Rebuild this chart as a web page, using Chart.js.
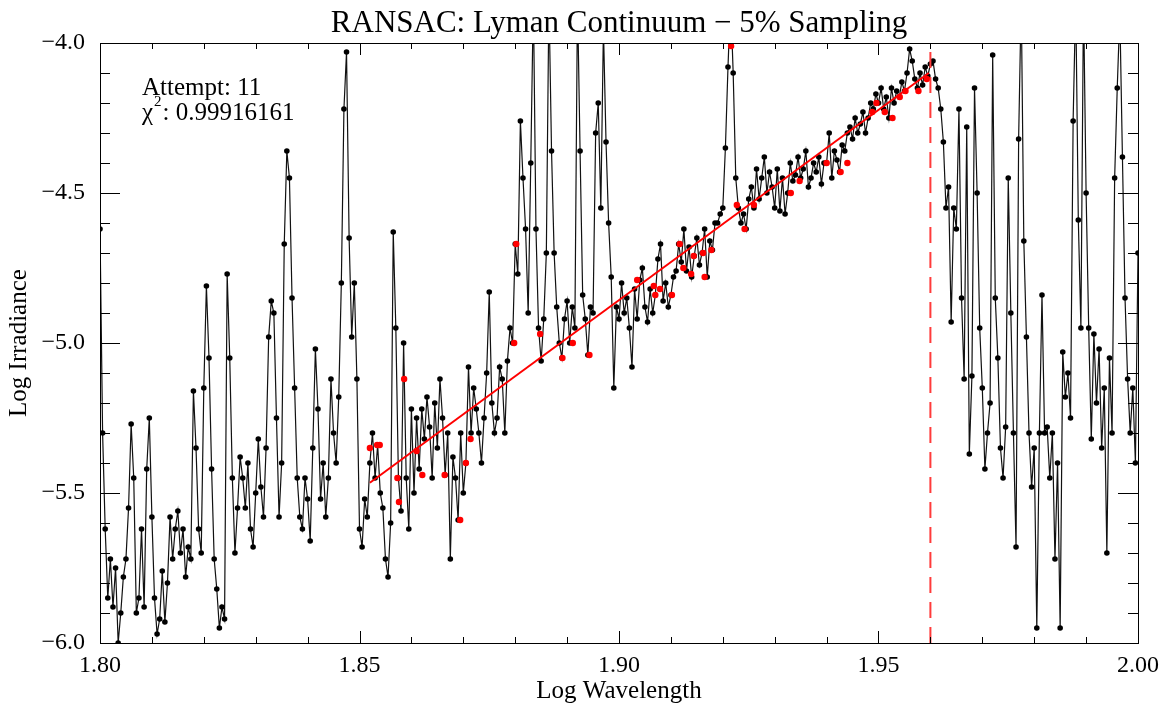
<!DOCTYPE html>
<html>
<head>
<meta charset="utf-8">
<title>RANSAC: Lyman Continuum</title>
<script src="https://cdn.jsdelivr.net/npm/chart.js@4.4.1/dist/chart.umd.min.js"></script>
<style>
  html, body { margin: 0; padding: 0; background: #fff; }
  #wrap { width: 1163px; height: 708px; }
</style>
</head>
<body>
<div id="wrap"><canvas id="c" width="1163" height="708"></canvas></div>
<script>
// ── Data ─────────────────────────────────────────────────
const titleText = 'RANSAC: Lyman Continuum \u2212 5% Sampling';
const attemptText = 'Attempt: 11';
const chiValue = '0.99916161';

// spectrum sampled on an even log-wavelength grid
const wlStart = 1.80, wlStep = 0.0005;
const irr = [
  -4.62, -5.30, -5.62, -5.85, -5.72, -5.88, -5.75, -6.00, -5.90, -5.78, // 1.800
  -5.72, -5.55, -5.27, -5.45, -5.90, -5.85, -5.62, -5.88, -5.42, -5.25,
  -5.58, -5.85, -5.97, -5.92, -5.76, -5.93, -5.80, -5.58, -5.72, -5.62, // 1.810
  -5.56, -5.70, -5.62, -5.78, -5.68, -5.72, -5.16, -5.35, -5.62, -5.70,
  -5.15, -4.81, -5.05, -5.42, -5.72, -5.82, -5.95, -5.88, -5.92, -4.77, // 1.820
  -5.05, -5.45, -5.70, -5.55, -5.38, -5.45, -5.55, -5.40, -5.62, -5.68,
  -5.50, -5.32, -5.48, -5.58, -5.35, -4.98, -4.86, -4.90, -5.25, -5.58, // 1.830
  -5.40, -4.67, -4.36, -4.45, -4.85, -5.15, -5.45, -5.58, -5.62, -5.45,
  -5.52, -5.66, -5.35, -5.02, -5.22, -5.52, -5.40, -5.58, -5.45, -5.12, // 1.840
  -5.30, -5.40, -5.18, -4.80, -4.22, -4.03, -4.65, -4.98, -4.80, -5.12,
  -5.62, -5.68, -5.52, -5.58, -5.40, -5.30, -5.45, -5.34, -5.50, -5.55, // 1.850
  -5.72, -5.78, -5.60, -4.63, -4.95, -5.45, -5.56, -5.00, -5.45, -5.62,
  -5.22, -5.50, -5.25, -5.42, -5.22, -5.32, -5.18, -5.28, -5.45, -5.20, // 1.860
  -5.35, -5.12, -5.25, -5.44, -5.30, -5.72, -5.38, -5.45, -5.59, -5.30,
  -5.50, -5.40, -5.08, -5.30, -5.15, -5.22, -5.30, -5.40, -5.25, -5.10, // 1.870
  -4.83, -5.20, -5.30, -5.25, -5.08, -5.12, -5.30, -5.06, -4.95, -5.00,
  -4.67, -4.77, -4.26, -4.45, -4.62, -4.90, -4.40, -3.85, -4.62, -4.95, // 1.880
  -5.06, -4.92, -4.70, -3.85, -4.36, -4.70, -4.88, -5.00, -5.05, -4.92,
  -4.86, -5.00, -4.88, -4.95, -3.85, -4.36, -4.84, -4.92, -5.04, -4.88, // 1.890
  -4.90, -4.30, -4.20, -4.55, -3.95, -4.33, -4.60, -4.78, -5.15, -4.88,
  -4.92, -4.80, -4.90, -4.85, -4.95, -5.08, -4.82, -4.92, -4.79, -4.75, // 1.900
  -4.88, -4.93, -4.82, -4.90, -4.84, -4.72, -4.67, -4.86, -4.80, -4.88,
  -4.84, -4.78, -4.76, -4.67, -4.73, -4.62, -4.76, -4.68, -4.78, -4.71, // 1.910
  -4.65, -4.74, -4.70, -4.62, -4.78, -4.66, -4.69, -4.60, -4.60, -4.57,
  -4.55, -4.35, -4.08, -3.85, -4.10, -4.45, -4.55, -4.60, -4.57, -4.62, // 1.920
  -4.52, -4.48, -4.55, -4.42, -4.52, -4.45, -4.38, -4.50, -4.43, -4.48,
  -4.55, -4.42, -4.56, -4.45, -4.57, -4.50, -4.40, -4.46, -4.44, -4.38, // 1.930
  -4.45, -4.42, -4.36, -4.48, -4.45, -4.40, -4.43, -4.38, -4.47, -4.40,
  -4.40, -4.30, -4.45, -4.36, -4.39, -4.43, -4.34, -4.36, -4.30, -4.28, // 1.940
  -4.32, -4.25, -4.30, -4.27, -4.23, -4.30, -4.25, -4.20, -4.22, -4.17,
  -4.20, -4.15, -4.22, -4.18, -4.25, -4.15, -4.20, -4.16, -4.18, -4.13, // 1.950
  -4.16, -4.10, -4.02, -4.06, -4.12, -4.15, -4.10, -4.14, -4.08, -4.11,
  -4.07, -4.06, -4.12, -4.15, -4.22, -4.33, -4.55, -4.48, -4.93, -4.55, // 1.960
  -4.62, -4.22, -4.85, -5.12, -4.28, -5.37, -5.11, -4.15, -4.50, -4.95,
  -5.15, -5.42, -5.30, -5.20, -4.04, -4.85, -5.05, -5.35, -5.45, -5.28, // 1.970
  -4.45, -4.90, -5.30, -5.68, -4.32, -3.85, -4.66, -4.98, -5.30, -5.48,
  -5.35, -5.95, -5.30, -4.84, -5.30, -5.28, -5.45, -5.30, -5.72, -5.40, // 1.980
  -5.95, -5.03, -5.18, -5.10, -5.25, -4.26, -3.85, -4.59, -4.95, -3.85,
  -4.50, -4.95, -5.32, -4.97, -5.20, -5.02, -5.35, -5.15, -5.70, -5.05, // 1.990
  -5.30, -4.45, -4.15, -3.90, -4.38, -4.85, -5.12, -5.30, -5.15, -5.40,
  -4.70                                                                 // 2.000
];

// points drawn in the 5% random sample (red)
const sampleWl = [
  1.8520, 1.8534, 1.8539, 1.8573, 1.8576, 1.8586, 1.8610, 1.8621, 1.8664, 1.8694,
  1.8705, 1.8714, 1.8798, 1.8802, 1.8848, 1.8891, 1.8911, 1.8943, 1.9035, 1.9067,
  1.9070, 1.9079, 1.9102, 1.9117, 1.9124, 1.9139, 1.9144, 1.9162, 1.9165, 1.9178,
  1.9216, 1.9227, 1.9242, 1.9260, 1.9331, 1.9348, 1.9400, 1.9427, 1.9440, 1.9488,
  1.9496, 1.9512, 1.9527, 1.9541, 1.9552, 1.9577, 1.9593
];
const sampleIrr = [
  -5.35, -5.34, -5.34, -5.45, -5.53, -5.12, -5.36, -5.44, -5.44, -5.59,
  -5.40, -5.32, -5.00, -4.67, -4.97, -5.05, -5.00, -5.04, -4.79, -4.81,
  -4.84, -4.82, -4.84, -4.67, -4.75, -4.77, -4.71, -4.70, -4.78, -4.69,
  -4.01, -4.54, -4.62, -4.54, -4.50, -4.46, -4.40, -4.43, -4.40, -4.23,
  -4.20, -4.23, -4.25, -4.18, -4.16, -4.16, -4.12
];

// best RANSAC line and the Lyman edge
const fitWl = [1.8520, 1.9597];
const fitIrr = [-5.466, -4.100];
const edgeWl = 1.96;

// axes
const xMin = 1.80, xMax = 2.00, xMajor = 0.05, xMinor = 0.01;
const yMin = -6.0, yMax = -4.0, yMajor = 0.5, yMinor = 0.1;

// ── IDL-style frame, inward ticks, title, annotation ─────
const idlFrame = {
  id: 'idlFrame',
  afterDraw(chart) {
    const { ctx, chartArea: a, scales: { x, y } } = chart;
    ctx.save();
    ctx.strokeStyle = '#000';
    ctx.lineWidth = 1;
    ctx.strokeRect(a.left + .5, a.top + .5, a.right - a.left, a.bottom - a.top);
    ctx.beginPath();
    const nx = Math.round((xMax - xMin) / xMinor), per = Math.round(xMajor / xMinor);
    for (let k = 0; k <= nx; k++) {
      const px = Math.round(x.getPixelForValue(xMin + k * xMinor)) + .5;
      const len = k % per === 0 ? 12 : 6;
      ctx.moveTo(px, a.bottom); ctx.lineTo(px, a.bottom - len);
      ctx.moveTo(px, a.top); ctx.lineTo(px, a.top + len);
    }
    const ny = Math.round((yMax - yMin) / yMinor), pery = Math.round(yMajor / yMinor);
    for (let k = 0; k <= ny; k++) {
      const py = Math.round(y.getPixelForValue(yMin + k * yMinor)) + .5;
      const len = k % pery === 0 ? 20 : 10;
      ctx.moveTo(a.left, py); ctx.lineTo(a.left + len, py);
      ctx.moveTo(a.right, py); ctx.lineTo(a.right - len, py);
    }
    ctx.stroke();

    ctx.fillStyle = '#000';
    ctx.textBaseline = 'alphabetic';
    ctx.textAlign = 'center';
    ctx.font = '31px "Liberation Serif", "Times New Roman", serif';
    ctx.fillText(titleText, (a.left + a.right) / 2, 32);

    // fit info in the upper-left corner
    ctx.textAlign = 'left';
    const tx = a.left + 42;
    ctx.font = '25px "Liberation Serif", "Times New Roman", serif';
    ctx.fillText(attemptText, tx, 95);
    ctx.fillText('\u03c7', tx, 120);
    let cx = tx + ctx.measureText('\u03c7').width + 1;
    ctx.font = '15px "Liberation Serif", "Times New Roman", serif';
    ctx.fillText('2', cx, 106);
    cx += ctx.measureText('2').width + 1;
    ctx.font = '25px "Liberation Serif", "Times New Roman", serif';
    ctx.fillText(': ' + chiValue, cx, 120);
    ctx.restore();
  }
};

Chart.defaults.font.family = '"Liberation Serif", "Times New Roman", serif';
Chart.defaults.color = '#000';

new Chart(document.getElementById('c'), {
  type: 'scatter',
  data: {
    datasets: [
      { label: 'sample', data: sampleWl.map((w, i) => ({ x: w, y: sampleIrr[i] })),
        pointRadius: 3.2, pointBackgroundColor: '#ff0000', pointBorderWidth: 0, showLine: false, order: 0 },
      { label: 'fit', data: fitWl.map((w, i) => ({ x: w, y: fitIrr[i] })),
        showLine: true, borderColor: '#ff0000', borderWidth: 2, pointRadius: 0, order: 1 },
      { label: 'edge', data: [{ x: edgeWl, y: yMin }, { x: edgeWl, y: yMax }],
        showLine: true, borderColor: '#ff3b3b', borderWidth: 2, borderDash: [16, 9], pointRadius: 0, order: 2 },
      { label: 'spectrum', data: irr.map((v, i) => ({ x: wlStart + i * wlStep, y: v })),
        showLine: true, borderColor: '#111', borderWidth: 1.2, tension: 0,
        pointRadius: 2.8, pointBackgroundColor: '#000', pointBorderWidth: 0, order: 3 }
    ]
  },
  options: {
    responsive: false, animation: false,
    layout: { padding: { left: 0, right: 25, top: 43, bottom: 0 } },
    plugins: { legend: { display: false }, tooltip: { enabled: false } },
    scales: {
      x: {
        type: 'linear', min: xMin, max: xMax,
        grid: { display: false }, border: { display: false },
        ticks: { stepSize: xMajor, padding: 0, autoSkip: false, maxRotation: 0, font: { size: 24 }, callback: v => v.toFixed(2) },
        title: { display: true, text: 'Log Wavelength', font: { size: 25 }, padding: { top: 0, bottom: 1.5 } },
        afterFit: s => { s.height = 65; }
      },
      y: {
        type: 'linear', min: yMin, max: yMax,
        grid: { display: false }, border: { display: false },
        ticks: { stepSize: yMajor, padding: 7, font: { size: 24 }, callback: v => v.toFixed(1).replace('-', '\u2212') },
        title: { display: true, text: 'Log Irradiance', font: { size: 25 }, padding: { top: 4, bottom: 0 } },
        afterFit: s => { s.width = 100; }
      }
    }
  },
  plugins: [idlFrame]
});
</script>
</body>
</html>
